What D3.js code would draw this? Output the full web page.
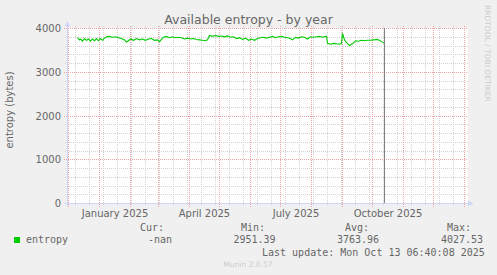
<!DOCTYPE html>
<html>
<head>
<meta charset="utf-8">
<script src="https://cdn.jsdelivr.net/npm/d3@7"></script>
<style>
html,body{margin:0;padding:0;background:#F0F0F0;}
svg{display:block;}
</style>
</head>
<body>
<svg id="chart" width="497" height="275"></svg>
<script>
// ---- data ----
const title = "Available entropy - by year";
const yAxisLabel = "entropy (bytes)";
const seriesName = "entropy";
const dates = [
"2024-12-10","2024-12-12","2024-12-13","2024-12-15","2024-12-17","2024-12-19","2024-12-21","2024-12-23","2024-12-25","2024-12-27","2024-12-29","2024-12-31",
"2025-01-02","2025-01-04","2025-01-06","2025-01-08","2025-01-11","2025-01-14","2025-01-17","2025-01-20","2025-01-23","2025-01-26","2025-01-28","2025-01-30",
"2025-02-01","2025-02-04","2025-02-07","2025-02-10","2025-02-13","2025-02-16","2025-02-19","2025-02-22","2025-02-25","2025-02-28",
"2025-03-02","2025-03-04","2025-03-06","2025-03-09","2025-03-12","2025-03-15","2025-03-18","2025-03-21","2025-03-24","2025-03-27","2025-03-30",
"2025-04-02","2025-04-05","2025-04-08","2025-04-11","2025-04-14","2025-04-17","2025-04-19","2025-04-21","2025-04-24","2025-04-27","2025-04-30",
"2025-05-03","2025-05-06","2025-05-09","2025-05-12","2025-05-15","2025-05-18","2025-05-21","2025-05-24","2025-05-27","2025-05-30",
"2025-06-02","2025-06-05","2025-06-08","2025-06-11","2025-06-14","2025-06-17","2025-06-20","2025-06-23","2025-06-26","2025-06-29",
"2025-07-02","2025-07-05","2025-07-08","2025-07-11","2025-07-13","2025-07-16","2025-07-19","2025-07-22","2025-07-25","2025-07-28","2025-07-31",
"2025-08-03","2025-08-06","2025-08-09","2025-08-12","2025-08-15","2025-08-16","2025-08-17","2025-08-20","2025-08-23","2025-08-26","2025-08-29","2025-08-31",
"2025-09-01","2025-09-03","2025-09-05","2025-09-08","2025-09-11","2025-09-14","2025-09-17","2025-09-20","2025-09-23","2025-09-26","2025-09-29",
"2025-10-02","2025-10-05","2025-10-07","2025-10-10","2025-10-13"
];
const entropy = [
3790,3740,3760,3710,3770,3730,3760,3710,3760,3720,3770,3720,
3770,3730,3780,3810,3820,3800,3810,3790,3770,3740,3690,3720,
3760,3730,3770,3740,3760,3730,3760,3770,3730,3740,
3700,3750,3800,3820,3790,3810,3790,3800,3790,3760,3780,
3760,3770,3750,3740,3730,3720,3740,3840,3820,3840,3820,
3830,3810,3830,3800,3810,3770,3790,3750,3780,3730,
3760,3730,3770,3790,3800,3780,3800,3820,3790,3810,
3820,3800,3790,3770,3740,3800,3780,3810,3800,3760,3810,
3800,3810,3820,3800,3820,3820,3660,3640,3660,3650,3640,3660,
3890,3740,3680,3610,3650,3720,3710,3730,3720,3730,3730,
3740,3750,3740,3700,3660
];
const yTicks = [0, 1000, 2000, 3000, 4000];
const yMinorStep = 200;
const monthLabels = ["January 2025", "April 2025", "July 2025", "October 2025"];
const monthLabelStarts = ["2025-01-01", "2025-04-01", "2025-07-01", "2025-10-01"];
const legendHeaders = ["Cur:", "Min:", "Avg:", "Max:"];
const legendValues = ["-nan", "2951.39", "3763.96", "4027.53"];
const lastUpdateText = "Last update: Mon Oct 13 06:40:08 2025";
const lastUpdate = "2025-10-13T06:40:08Z";
const footer = "Munin 2.0.57";
const sideText = "RRDTOOL / TOBI OETIKER";

// ---- drawing ----
const svg = d3.select("#chart");
const W = 497, H = 275;
const L = 67, R = 467, T = 28, B = 203;
const FONT = "'DejaVu Sans', Verdana, sans-serif";
const MONO = "'DejaVu Sans Mono', monospace";
const fontColor = "#666666";
const minorColor = "#D2D2D2";
const majorColor = "#EDA4A4";

svg.append("rect").attr("width", W).attr("height", H).attr("fill", "#F0F0F0");
svg.append("rect").attr("x", L).attr("y", T).attr("width", R - L + 1).attr("height", B - T + 1).attr("fill", "#FFFFFF");

const parse = d3.utcParse("%Y-%m-%d");
const t0 = new Date(Date.UTC(2024, 10, 29, 12));
const t1 = d3.utcDay.offset(t0, 400);
const x = d3.scaleUtc().domain([t0, t1]).range([L, R]);
const y = d3.scaleLinear().domain([0, 4000]).range([B + 0.5, T + 0.5]);
const px = v => Math.round(v - 0.5) + 0.5;

const gridG = svg.append("g");
const minorY = d3.range(0, 4000 + 1, yMinorStep).filter(v => !yTicks.includes(v));
gridG.selectAll(".hmin").data(minorY).join("line")
  .attr("x1", L - 2).attr("x2", R + 1)
  .attr("y1", d => px(y(d))).attr("y2", d => px(y(d)))
  .attr("stroke", minorColor).attr("stroke-dasharray", "1,1");

const sundays = d3.utcSunday.range(t0, t1).filter((d, i) => i % 2 === 1);
gridG.selectAll(".vmin").data(sundays).join("line")
  .attr("x1", d => px(x(d))).attr("x2", d => px(x(d)))
  .attr("y1", T - 2).attr("y2", B + 3)
  .attr("stroke", minorColor).attr("stroke-dasharray", "1,1");

gridG.selectAll(".hmaj").data(yTicks).join("line")
  .attr("x1", L - 3).attr("x2", R + 1)
  .attr("y1", d => px(y(d))).attr("y2", d => px(y(d)))
  .attr("stroke", majorColor).attr("stroke-dasharray", "1,1");

const months = d3.utcMonth.range(t0, t1);
gridG.selectAll(".vmaj").data(months).join("line")
  .attr("x1", d => px(x(d))).attr("x2", d => px(x(d)))
  .attr("y1", T - 2).attr("y2", B + 4)
  .attr("stroke", majorColor).attr("stroke-dasharray", "1,1");

svg.append("g").selectAll("text").data(yTicks).join("text")
  .attr("x", 61).attr("y", d => y(d) + 3.5)
  .attr("text-anchor", "end").attr("font-family", FONT).attr("font-size", 10)
  .attr("fill", fontColor).text(d => d3.format("d")(d));

svg.append("g").selectAll("text").data(monthLabels).join("text")
  .attr("x", (d, i) => {
    const s = parse(monthLabelStarts[i]);
    return (x(s) + x(d3.utcMonth.offset(s, 1))) / 2;
  })
  .attr("y", 216.7)
  .attr("text-anchor", "middle").attr("font-family", FONT).attr("font-size", 10)
  .attr("fill", fontColor).text(d => d);

const pts = dates.map((d, i) => ({ date: parse(d), v: entropy[i] }));
svg.append("path").datum(pts)
  .attr("fill", "none").attr("stroke", "#00CC00").attr("stroke-width", 1.1)
  .attr("d", d3.line().x(d => x(d.date)).y(d => y(d.v)));

const lu = new Date(lastUpdate);
svg.append("line").attr("x1", px(x(lu))).attr("x2", px(x(lu)))
  .attr("y1", T).attr("y2", B + 1).attr("stroke", "#808080").attr("stroke-width", 1);

const axisColor = "#CFD6F8";
svg.append("line").attr("x1", L - 3).attr("x2", R + 2).attr("y1", B + 0.5).attr("y2", B + 0.5).attr("stroke", axisColor);
svg.append("line").attr("x1", L + 0.5).attr("x2", L + 0.5).attr("y1", B + 3).attr("y2", T - 2).attr("stroke", axisColor);
svg.append("path").attr("d", `M${L - 2.5},${T - 1.5} L${L + 3.5},${T - 1.5} L${L + 0.5},${T - 7} Z`).attr("fill", axisColor);
svg.append("path").attr("d", `M${R + 1},${B - 2.5} L${R + 1},${B + 3.5} L${R + 6.5},${B + 0.5} Z`).attr("fill", axisColor);

svg.append("text").attr("x", 248.5).attr("y", 23.5).attr("text-anchor", "middle")
  .attr("font-family", FONT).attr("font-size", 12.5).attr("fill", fontColor).text(title);

svg.append("text").attr("transform", "translate(12.5,110) rotate(-90)")
  .attr("text-anchor", "middle").attr("font-family", FONT).attr("font-size", 10)
  .attr("fill", fontColor).text(yAxisLabel);

svg.append("text").attr("transform", "translate(485,5) rotate(90)")
  .attr("text-anchor", "start").attr("font-family", FONT).attr("font-size", 7.5)
  .attr("fill", "#CCCCCC").text(sideText);

const lg = svg.append("g").attr("font-family", MONO).attr("font-size", 10).attr("fill", fontColor);
const headerX = [140, 241, 345, 447];
const valueX = [148, 233.5, 337, 441];
lg.selectAll(".h").data(legendHeaders).join("text").attr("x", (d, i) => headerX[i]).attr("y", 231.3).text(d => d);
lg.selectAll(".v").data(legendValues).join("text").attr("x", (d, i) => valueX[i]).attr("y", 243.3).text(d => d);
lg.append("text").attr("x", 26).attr("y", 243.3).text(seriesName);
lg.append("text").attr("x", 262).attr("y", 255.5).text(lastUpdateText);
svg.append("rect").attr("x", 14).attr("y", 237).attr("width", 6).attr("height", 6).attr("fill", "#00CC00");

svg.append("text").attr("x", 248).attr("y", 267).attr("text-anchor", "middle")
  .attr("font-family", FONT).attr("font-size", 7.5).attr("fill", "#CCCCCC").text(footer);
</script>
</body>
</html>
